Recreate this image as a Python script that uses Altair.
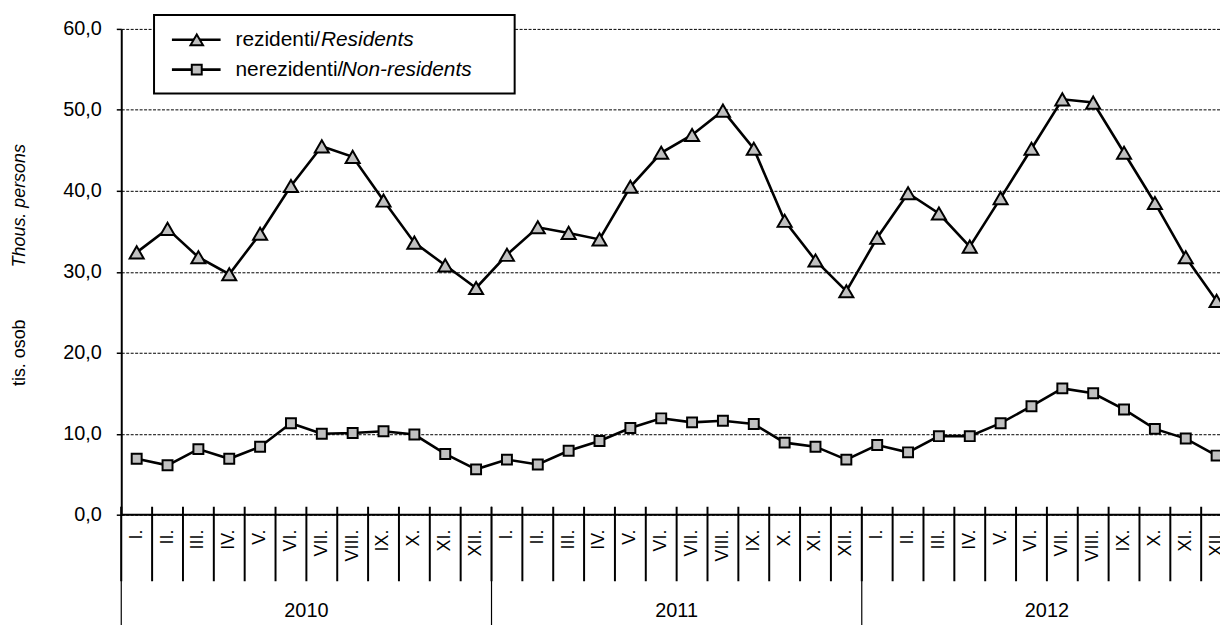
import altair as alt
import pandas as pd

# ---------------- data ----------------
months = ["I.", "II.", "III.", "IV.", "V.", "VI.", "VII.", "VIII.", "IX.", "X.", "XI.", "XII."]
years = ["2010", "2011", "2012"]

residents = [
    32.4, 35.3, 31.8, 29.7, 34.7, 40.6, 45.5, 44.2, 38.8, 33.6, 30.8, 28.0,
    32.1, 35.5, 34.8, 34.0, 40.5, 44.7, 46.9, 49.9, 45.2, 36.3, 31.4, 27.6,
    34.2, 39.7, 37.2, 33.1, 39.1, 45.2, 51.3, 50.9, 44.7, 38.5, 31.8, 26.4,
]
nonresidents = [
    6.9, 6.1, 8.1, 6.9, 8.4, 11.3, 10.0, 10.1, 10.3, 9.9, 7.5, 5.6,
    6.8, 6.2, 7.9, 9.1, 10.7, 11.9, 11.4, 11.6, 11.2, 8.9, 8.4, 6.8,
    8.6, 7.7, 9.7, 9.7, 11.3, 13.4, 15.6, 15.0, 13.0, 10.6, 9.4, 7.3,
]
legend_normal = ["rezidenti/", "nerezidenti/"]
legend_italic = ["Residents", "Non-residents"]
y_title_cz = "tis. osob"
y_title_en = "Thous. persons"
y_ticks = [0, 10, 20, 30, 40, 50, 60]

# ---------------- tables ----------------
n = len(residents)
df_res = pd.DataFrame({"pos": [i + 0.5 for i in range(n)], "value": residents})
df_non = pd.DataFrame({"pos": [i + 0.5 for i in range(n)], "value": nonresidents})
df_mlab = pd.DataFrame({"pos": [i + 0.5 for i in range(n)],
                        "label": [months[i % 12] for i in range(n)]})
df_sep = pd.DataFrame({"pos": list(range(n + 1))})
df_ysep = pd.DataFrame({"pos": [12 * k for k in range(len(years) + 1)]})
df_year = pd.DataFrame({"pos": [12 * k + 6 for k in range(len(years))], "label": years})
df_axis = pd.DataFrame({"a": [0], "b": [n]})
df_one = pd.DataFrame({"k": [0]})

FONT = "Liberation Sans"
W, H = 1106, 489
GRAY = "#c0c0c0"

xs = alt.Scale(domain=[0, 35.61], nice=False, zero=False)
ys = alt.Scale(domain=[0, 60], nice=False, zero=False)

yaxis = alt.Axis(
    values=y_ticks, title=None,
    labelExpr="replace(format(datum.value, '.1f'), '.', ',')",
    grid=True, gridDash=[3, 1.5], gridColor="black", gridWidth=1, gridOpacity=1,
    domainColor="black", domainWidth=2,
    tickColor="black", tickSize=5, tickWidth=1.5,
    labelFont=FONT, labelFontSize=20, labelColor="black", labelPadding=15,
)

line_res = alt.Chart(df_res).mark_line(color="black", strokeWidth=2.6).encode(
    x=alt.X("pos:Q", scale=xs, axis=None),
    y=alt.Y("value:Q", scale=ys, axis=yaxis),
)
line_non = alt.Chart(df_non).mark_line(color="black", strokeWidth=2.6).encode(
    x=alt.X("pos:Q", scale=xs, axis=None),
    y=alt.Y("value:Q", scale=ys),
)
pts_res = alt.Chart(df_res).mark_point(
    shape="triangle-up", filled=True, fill=GRAY, stroke="black",
    strokeWidth=2, size=200, opacity=1, fillOpacity=1, strokeOpacity=1,
).encode(x=alt.X("pos:Q", scale=xs), y=alt.Y("value:Q", scale=ys))
pts_non = alt.Chart(df_non).mark_point(
    shape="square", filled=True, fill=GRAY, stroke="black",
    strokeWidth=2, size=100, opacity=1, fillOpacity=1, strokeOpacity=1,
).encode(x=alt.X("pos:Q", scale=xs), y=alt.Y("value:Q", scale=ys))

# ---------------- x axis (months / years) ----------------
axis_line = alt.Chart(df_axis).mark_rule(color="black", strokeWidth=2).encode(
    x=alt.X("a:Q", scale=xs), x2="b:Q", y=alt.value(H)
)
seps = alt.Chart(df_sep).mark_rule(color="black", strokeWidth=2).encode(
    x=alt.X("pos:Q", scale=xs), y=alt.value(H - 8), y2=alt.value(H + 67)
)
ysep = alt.Chart(df_ysep).mark_rule(color="black", strokeWidth=1.2).encode(
    x=alt.X("pos:Q", scale=xs), y=alt.value(H - 8), y2=alt.value(H + 120)
)
mlab = alt.Chart(df_mlab).mark_text(
    angle=270, align="right", baseline="middle", font=FONT, fontSize=18, color="black"
).encode(x=alt.X("pos:Q", scale=xs), y=alt.value(H + 15), text="label:N")
ylab = alt.Chart(df_year).mark_text(
    align="center", baseline="middle", font=FONT, fontSize=20, color="black"
).encode(x=alt.X("pos:Q", scale=xs), y=alt.value(H + 97), text="label:N")

# ---------------- y title ----------------
t_en = alt.Chart(df_one).mark_text(
    angle=270, align="center", baseline="middle", font=FONT, fontSize=18,
    fontStyle="italic", color="black"
).encode(x=alt.value(-102), y=alt.value(178), text=alt.value(y_title_en))
t_cz = alt.Chart(df_one).mark_text(
    angle=270, align="center", baseline="middle", font=FONT, fontSize=18, color="black"
).encode(x=alt.value(-102), y=alt.value(326), text=alt.value(y_title_cz))

# ---------------- legend ----------------
leg_box = alt.Chart(df_one).mark_rect(fill="white", stroke="black", strokeWidth=2).encode(
    x=alt.value(33), x2=alt.value(396), y=alt.value(-14), y2=alt.value(65)
)
leg_layers = [leg_box]
row_y = [11, 41]
italic_x = [201, 222]
shapes = [("triangle-up", 160), ("square", 100)]
for r in range(2):
    leg_layers.append(alt.Chart(df_one).mark_rule(color="black", strokeWidth=2.6).encode(
        x=alt.value(51), x2=alt.value(100), y=alt.value(row_y[r])))
    leg_layers.append(alt.Chart(df_one).mark_point(
        shape=shapes[r][0], filled=True, fill=GRAY, stroke="black", strokeWidth=2,
        size=shapes[r][1], opacity=1, fillOpacity=1, strokeOpacity=1,
    ).encode(x=alt.value(76), y=alt.value(row_y[r])))
    leg_layers.append(alt.Chart(df_one).mark_text(
        align="left", baseline="middle", font=FONT, fontSize=21, color="black"
    ).encode(x=alt.value(115), y=alt.value(row_y[r]), text=alt.value(legend_normal[r])))
    leg_layers.append(alt.Chart(df_one).mark_text(
        align="left", baseline="middle", font=FONT, fontSize=21, color="black",
        fontStyle="italic"
    ).encode(x=alt.value(italic_x[r]), y=alt.value(row_y[r]), text=alt.value(legend_italic[r])))

chart = alt.layer(
    line_res, line_non, pts_res, pts_non,
    axis_line, seps, ysep, mlab, ylab, t_en, t_cz, *leg_layers
).properties(
    width=W, height=H,
    padding={"left": 114, "top": 19, "right": 0, "bottom": 109},
    autosize=alt.AutoSizeParams(type="none"),
    background="white",
).configure_view(strokeWidth=0)

chart.save("out.html", embed_options={"renderer": "svg", "actions": False})
